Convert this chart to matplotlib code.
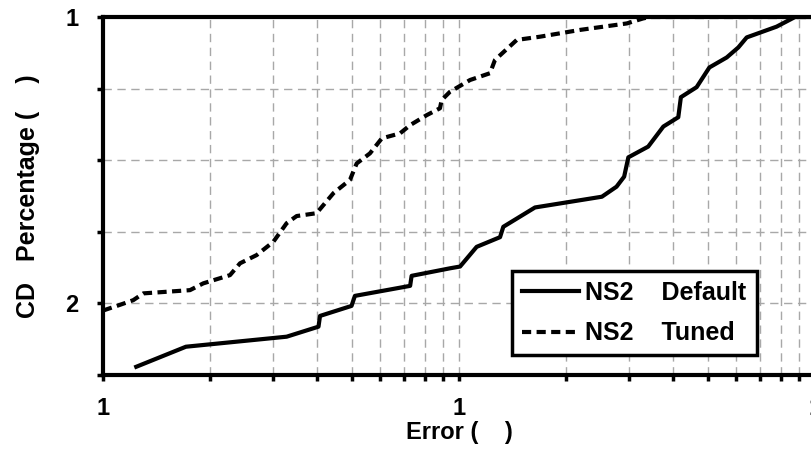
import matplotlib
matplotlib.use("Agg")
import matplotlib.pyplot as plt
from matplotlib.ticker import FixedLocator, FixedFormatter, LogLocator, NullFormatter

plt.rcParams['font.family'] = ['Liberation Sans', 'DejaVu Sans']
plt.rcParams['font.weight'] = 'bold'

# CDF of error for the default and tuned simulator settings
default_err = [1.24, 1.71, 3.28, 4.03, 4.07, 4.99, 5.10, 7.29, 7.36, 9.43, 10.07,
               11.21, 13.04, 13.32, 16.35, 25.2, 27.7, 29.1, 29.9, 34.0, 37.5,
               41.3, 42.0, 46.5, 50.5, 56.5, 60.9, 64.3, 78.0, 87.9, 100.0]
default_pct = [2.3, 7.9, 10.7, 13.5, 16.5, 19.3, 22.1, 24.9, 27.7, 29.8, 30.3,
               35.8, 38.5, 41.4, 46.8, 49.8, 52.6, 55.4, 60.8, 63.8, 69.4,
               72.0, 77.6, 80.4, 85.9, 88.7, 91.5, 94.3, 97.3, 100.0, 100.0]

tuned_err = [1.0, 1.116, 1.216, 1.298, 1.755, 1.913, 2.274, 2.426, 2.702, 3.009,
             3.28, 3.50, 3.98, 4.44, 4.94, 5.16, 5.62, 6.07, 6.83, 7.29, 8.12,
             8.84, 8.94, 9.43, 10.74, 12.22, 12.62, 14.53, 16.89, 21.9, 29.6,
             32.9, 34.4, 100.0]
tuned_pct = [18.0, 19.6, 20.9, 22.8, 23.7, 25.6, 27.9, 31.2, 33.5, 37.2,
             42.4, 44.4, 45.2, 50.8, 54.5, 59.1, 61.9, 66.1, 67.5, 69.8, 72.6,
             74.5, 76.8, 79.1, 82.4, 84.3, 88.0, 93.6, 94.5, 96.4, 98.2,
             99.6, 100.0, 100.0]

x_ticks = [1, 10, 100]
x_labels = ['1', '1', '1']
y_ticks = [0, 20, 40, 60, 80, 100]
y_labels = ['', '2', '', '', '', '1']

fig = plt.figure(figsize=(8.12, 4.51), dpi=100)
ax = fig.add_axes([103 / 812, 1 - 375 / 451, 712 / 812, 358 / 451])

ax.plot(default_err, default_pct, color='black', lw=3.0, label='NS2    Default',
        solid_joinstyle='round', zorder=3)
ax.plot(tuned_err, tuned_pct, color='black', lw=3.0, linestyle=(0, (2.2, 1.3)),
        label='NS2    Tuned', zorder=3)

ax.set_xscale('log')
ax.set_xlim(1, 100)
ax.set_ylim(0, 100)

ax.xaxis.set_major_locator(FixedLocator(x_ticks))
ax.xaxis.set_major_formatter(FixedFormatter(x_labels))
ax.xaxis.set_minor_locator(LogLocator(base=10, subs=range(2, 10)))
ax.xaxis.set_minor_formatter(NullFormatter())
ax.yaxis.set_major_locator(FixedLocator(y_ticks))
ax.yaxis.set_major_formatter(FixedFormatter(y_labels))

ax.grid(True, which='both', axis='x', color='#a8a8a8', lw=1.0, linestyle=(0, (6, 4)))
ax.grid(True, which='major', axis='y', color='#a8a8a8', lw=1.0, linestyle=(0, (6, 4)))

ax.tick_params(axis='both', which='both', direction='out', length=4.5, width=2.5,
               labelsize=17, top=False, right=False)
ax.tick_params(axis='y', pad=13)
ax.tick_params(axis='x', pad=11)
for lab in ax.get_xticklabels() + ax.get_yticklabels():
    lab.set_fontweight('bold')

for side in ['left', 'bottom', 'top', 'right']:
    ax.spines[side].set_linewidth(3.0)

ax.set_xlabel('Error (    )', fontsize=17, fontweight='bold', labelpad=1)
ax.set_ylabel('CD   Percentage (    )', fontsize=18, fontweight='bold', labelpad=18)

leg = ax.legend(loc='lower right', bbox_to_anchor=(0.918, 0.055),
                fontsize=18, frameon=True, fancybox=False, handlelength=2.3,
                handletextpad=0.25, borderpad=0.4, labelspacing=0.65,
                borderaxespad=0.0)
leg.get_frame().set_edgecolor('black')
leg.get_frame().set_linewidth(2.5)
leg.get_frame().set_alpha(1.0)
for t in leg.get_texts():
    t.set_fontweight('bold')

fig.savefig('out.png', dpi=100)
